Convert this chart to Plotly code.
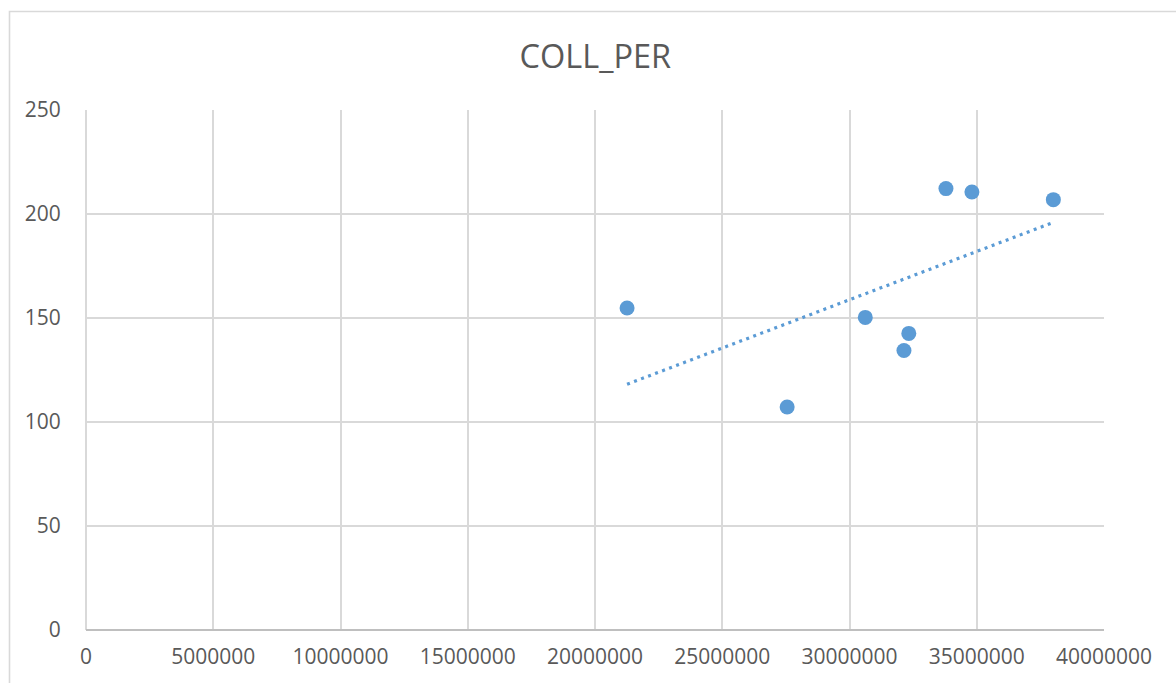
import numpy as np
import plotly.graph_objects as go

# Data
x_vals = [21260000, 27550000, 30620000, 32330000, 32140000, 33790000, 34810000, 38010000]
y_vals = [154.8, 107.2, 150.3, 142.6, 134.4, 212.2, 210.6, 206.9]

x_tickvals = [0, 5000000, 10000000, 15000000, 20000000, 25000000, 30000000, 35000000, 40000000]
x_ticktext = ["0", "5000000", "10000000", "15000000", "20000000", "25000000", "30000000", "35000000", "40000000"]
y_tickvals = [0, 50, 100, 150, 200, 250]
y_ticktext = ["0", "50", "100", "150", "200", "250"]

title_text = "COLL_PER"

# Linear trendline (least squares), drawn between data extremes
slope, intercept = np.polyfit(x_vals, y_vals, 1)
tx = [min(x_vals), max(x_vals)]
ty = [slope * v + intercept for v in tx]

blue = "#5B9BD5"
text_col = "#595959"
grid_col = "#D9D9D9"
font_family = "Open Sans"

fig = go.Figure()
fig.add_trace(go.Scatter(
    x=tx, y=ty, mode="lines",
    line=dict(color=blue, width=3.2, dash="3px,4.5px"),
    hoverinfo="skip", showlegend=False,
))
fig.add_trace(go.Scatter(
    x=x_vals, y=y_vals, mode="markers",
    marker=dict(color=blue, size=15, line=dict(width=0)),
    showlegend=False,
))

L, R, T, B = 86, 72, 110, 53
W, H = 1176, 683
pw = W - L - R
ph = H - T - B

fig.update_layout(
    width=W, height=H,
    margin=dict(l=L, r=R, t=T, b=B, pad=0),
    paper_bgcolor="white", plot_bgcolor="white",
    title=dict(text=title_text, x=595.4 / W, xanchor="center",
               y=1 - 56.3 / H, yanchor="middle",
               font=dict(family=font_family, size=32.5, color=text_col)),
    font=dict(family=font_family, color=text_col, size=21),
    xaxis=dict(
        range=[0, 40000000], tickvals=x_tickvals, ticktext=x_ticktext,
        showgrid=True, gridcolor=grid_col, gridwidth=1.8,
        zeroline=True, zerolinecolor=grid_col, zerolinewidth=1.8,
        ticks="outside", ticklen=8, tickcolor="rgba(0,0,0,0)",
        tickfont=dict(family=font_family, size=21, color=text_col),
        showline=False, fixedrange=True,
    ),
    yaxis=dict(
        range=[0, 250], tickvals=y_tickvals, ticktext=y_ticktext,
        showgrid=True, gridcolor=grid_col, gridwidth=1.8,
        zeroline=True, zerolinecolor="#BFBFBF", zerolinewidth=2,
        ticks="outside", ticklen=20, tickcolor="rgba(0,0,0,0)",
        tickfont=dict(family=font_family, size=21, color=text_col),
        showline=False, fixedrange=True,
    ),
    shapes=[dict(
        type="rect", xref="paper", yref="paper",
        x0=(9.5 - L) / pw, x1=1.2,
        y0=-0.3, y1=(H - B - 11.5) / ph,
        line=dict(color=grid_col, width=1.6), layer="below",
    )],
)

fig.write_html(
    "out.html",
    config={"displayModeBar": False},
    post_script="document.body.style.margin='0';document.body.style.overflow='hidden';",
)
